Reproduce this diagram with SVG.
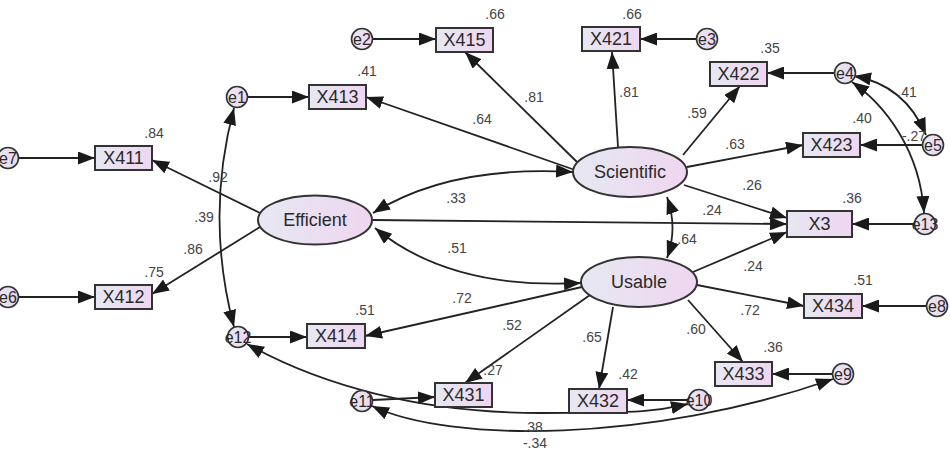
<svg xmlns="http://www.w3.org/2000/svg" width="950" height="456" viewBox="0 0 950 456">
<defs>
<linearGradient id="g" x1="0" y1="0" x2="1" y2="0">
<stop offset="0" stop-color="#e6e8f2"/>
<stop offset="1" stop-color="#efd6f0"/>
</linearGradient>
<marker id="ah" markerUnits="userSpaceOnUse" markerWidth="18" markerHeight="13" viewBox="0 0 18 13" refX="17" refY="6.5" orient="auto-start-reverse">
<path d="M0,0 L17,6.5 L0,13 z" fill="#1a1a1a"/>
</marker>
<style>
.box{fill:url(#g);stroke:#333;stroke-width:2}
.lat{fill:url(#g);stroke:#333;stroke-width:2}
.err{fill:url(#g);stroke:#333;stroke-width:1.6}
.t{font-family:"Liberation Sans",Arial,sans-serif;font-size:18px;fill:#2a2a2a;text-anchor:middle;dominant-baseline:central}
.et{font-family:"Liberation Sans",Arial,sans-serif;font-size:16px;fill:#2a2a2a;text-anchor:middle;dominant-baseline:central}
.n{font-family:"Liberation Sans",Arial,sans-serif;font-size:14px;fill:#444;text-anchor:middle;dominant-baseline:central}
.c{fill:none;stroke:#222;stroke-width:1.8}
.a{marker-end:url(#ah)}
.d{marker-start:url(#ah);marker-end:url(#ah)}
</style>
</defs>
<rect width="950" height="456" fill="#fff"/>
<g id="connectors">
<path class="c a" d="M19,158 L95,158"/>
<path class="c a" d="M19,297 L95,297"/>
<path class="c a" d="M260,213 L152,160"/>
<path class="c a" d="M260,227 L152,294"/>
<path class="c a" d="M248,97 L309,97"/>
<path class="c a" d="M575,170 L366,97"/>
<path class="c a" d="M577,162 L465,52"/>
<path class="c a" d="M618,147 L612,52"/>
<path class="c a" d="M373,39 L436,39"/>
<path class="c a" d="M696,39 L640,39"/>
<path class="c a" d="M683,155 L740,86"/>
<path class="c a" d="M834,73 L767,73"/>
<path class="c a" d="M687,167 L803,145"/>
<path class="c a" d="M922,145 L860,145"/>
<path class="c a" d="M684,185 L787,218"/>
<path class="c a" d="M372,220 L787,224"/>
<path class="c a" d="M693,272 L787,232"/>
<path class="c a" d="M914,224 L852,224"/>
<path class="c d" d="M667,197 Q678,228 667,258"/>
<path class="c d" d="M373,213 Q450,165 573,172"/>
<path class="c d" d="M375,228 Q450,290 581,283"/>
<path class="c a" d="M582,287 L365,336"/>
<path class="c a" d="M249,337 L307,337"/>
<path class="c a" d="M590,295 L465,383"/>
<path class="c a" d="M373,400 L435,397"/>
<path class="c a" d="M613,307 L599,389"/>
<path class="c a" d="M688,400 L627,400"/>
<path class="c a" d="M688,300 L743,362"/>
<path class="c a" d="M832,374 L772,374"/>
<path class="c a" d="M697,285 L804,306"/>
<path class="c a" d="M926,306 L862,306"/>
<path class="c d" d="M234,108 Q205,217 234,327"/>
<path class="c d" d="M854,76 Q905,85 926,135"/>
<path class="c d" d="M852,82 C885,105 920,150 924,213"/>
<path class="c d" d="M247,344 C320,385 420,413 540,413 S660,410 688,404"/>
<path class="c d" d="M372,406 C450,443 650,443 833,379"/>
</g>
<g id="labels">
<text class="n" x="154" y="133">.84</text>
<text class="n" x="154" y="272">.75</text>
<text class="n" x="218" y="177">.92</text>
<text class="n" x="204" y="217">.39</text>
<text class="n" x="193" y="249">.86</text>
<text class="n" x="367" y="71">.41</text>
<text class="n" x="495" y="14">.66</text>
<text class="n" x="632" y="14">.66</text>
<text class="n" x="482" y="119">.64</text>
<text class="n" x="534" y="97">.81</text>
<text class="n" x="629" y="92">.81</text>
<text class="n" x="770" y="48">.35</text>
<text class="n" x="697" y="113">.59</text>
<text class="n" x="735" y="144">.63</text>
<text class="n" x="862" y="118">.40</text>
<text class="n" x="907" y="92">.41</text>
<text class="n" x="914" y="136">-.27</text>
<text class="n" x="752" y="185">.26</text>
<text class="n" x="852" y="198">.36</text>
<text class="n" x="712" y="210">.24</text>
<text class="n" x="456" y="198">.33</text>
<text class="n" x="457" y="248">.51</text>
<text class="n" x="687" y="239">.64</text>
<text class="n" x="753" y="266">.24</text>
<text class="n" x="863" y="280">.51</text>
<text class="n" x="750" y="310">.72</text>
<text class="n" x="462" y="298">.72</text>
<text class="n" x="365" y="310">.51</text>
<text class="n" x="512" y="325">.52</text>
<text class="n" x="592" y="337">.65</text>
<text class="n" x="696" y="329">.60</text>
<text class="n" x="773" y="347">.36</text>
<text class="n" x="628" y="374">.42</text>
<text class="n" x="493" y="370">.27</text>
<text class="n" x="533" y="427">.38</text>
<text class="n" x="535" y="443">-.34</text>
</g>
<g id="Efficient"><ellipse class="lat" cx="315" cy="220" rx="57" ry="24.5"/><text class="t" x="315" y="220">Efficient</text></g>
<g id="Scientific"><ellipse class="lat" cx="630" cy="172" rx="57" ry="25"/><text class="t" x="630" y="172">Scientific</text></g>
<g id="Usable"><ellipse class="lat" cx="639" cy="282" rx="58" ry="25"/><text class="t" x="639" y="282">Usable</text></g>
<g id="X411"><rect class="box" x="95" y="146" width="57" height="24"/><text class="t" x="123.5" y="158">X411</text></g>
<g id="X412"><rect class="box" x="95" y="285" width="57" height="24"/><text class="t" x="123.5" y="297">X412</text></g>
<g id="X413"><rect class="box" x="309" y="85" width="57" height="24"/><text class="t" x="337.5" y="97">X413</text></g>
<g id="X415"><rect class="box" x="436" y="28" width="57" height="24"/><text class="t" x="464.5" y="40">X415</text></g>
<g id="X421"><rect class="box" x="582" y="27" width="58" height="24"/><text class="t" x="611" y="39">X421</text></g>
<g id="X422"><rect class="box" x="710" y="62" width="57" height="24"/><text class="t" x="738.5" y="74">X422</text></g>
<g id="X423"><rect class="box" x="803" y="133" width="57" height="24"/><text class="t" x="831.5" y="145">X423</text></g>
<g id="X3"><rect class="box" x="787" y="211" width="65" height="26"/><text class="t" x="819.5" y="224">X3</text></g>
<g id="X434"><rect class="box" x="804" y="294" width="58" height="24"/><text class="t" x="833" y="306">X434</text></g>
<g id="X433"><rect class="box" x="715" y="362" width="57" height="24"/><text class="t" x="743.5" y="374">X433</text></g>
<g id="X432"><rect class="box" x="569" y="389" width="58" height="24"/><text class="t" x="598" y="401">X432</text></g>
<g id="X431"><rect class="box" x="435" y="383" width="57" height="24"/><text class="t" x="463.5" y="395">X431</text></g>
<g id="X414"><rect class="box" x="307" y="324" width="58" height="24"/><text class="t" x="336" y="336">X414</text></g>
<g id="e7"><circle class="err" cx="8" cy="158" r="10.5"/><text class="et" x="8" y="158">e7</text></g>
<g id="e6"><circle class="err" cx="8" cy="297" r="10.5"/><text class="et" x="8" y="297">e6</text></g>
<g id="e1"><circle class="err" cx="237" cy="97" r="10.5"/><text class="et" x="237" y="97">e1</text></g>
<g id="e2"><circle class="err" cx="362" cy="39" r="10.5"/><text class="et" x="362" y="39">e2</text></g>
<g id="e3"><circle class="err" cx="707" cy="39" r="10.5"/><text class="et" x="707" y="39">e3</text></g>
<g id="e4"><circle class="err" cx="845" cy="73" r="10.5"/><text class="et" x="845" y="73">e4</text></g>
<g id="e5"><circle class="err" cx="933" cy="145" r="10.5"/><text class="et" x="933" y="145">e5</text></g>
<g id="e13"><circle class="err" cx="925" cy="224" r="10.5"/><text class="et" x="925" y="224">e13</text></g>
<g id="e8"><circle class="err" cx="937" cy="306" r="10.5"/><text class="et" x="937" y="306">e8</text></g>
<g id="e9"><circle class="err" cx="843" cy="374" r="10.5"/><text class="et" x="843" y="374">e9</text></g>
<g id="e10"><circle class="err" cx="699" cy="400" r="10.5"/><text class="et" x="699" y="400">e10</text></g>
<g id="e11"><circle class="err" cx="362" cy="401" r="10.5"/><text class="et" x="362" y="401">e11</text></g>
<g id="e12"><circle class="err" cx="238" cy="337" r="10.5"/><text class="et" x="238" y="337">e12</text></g>
</svg>
